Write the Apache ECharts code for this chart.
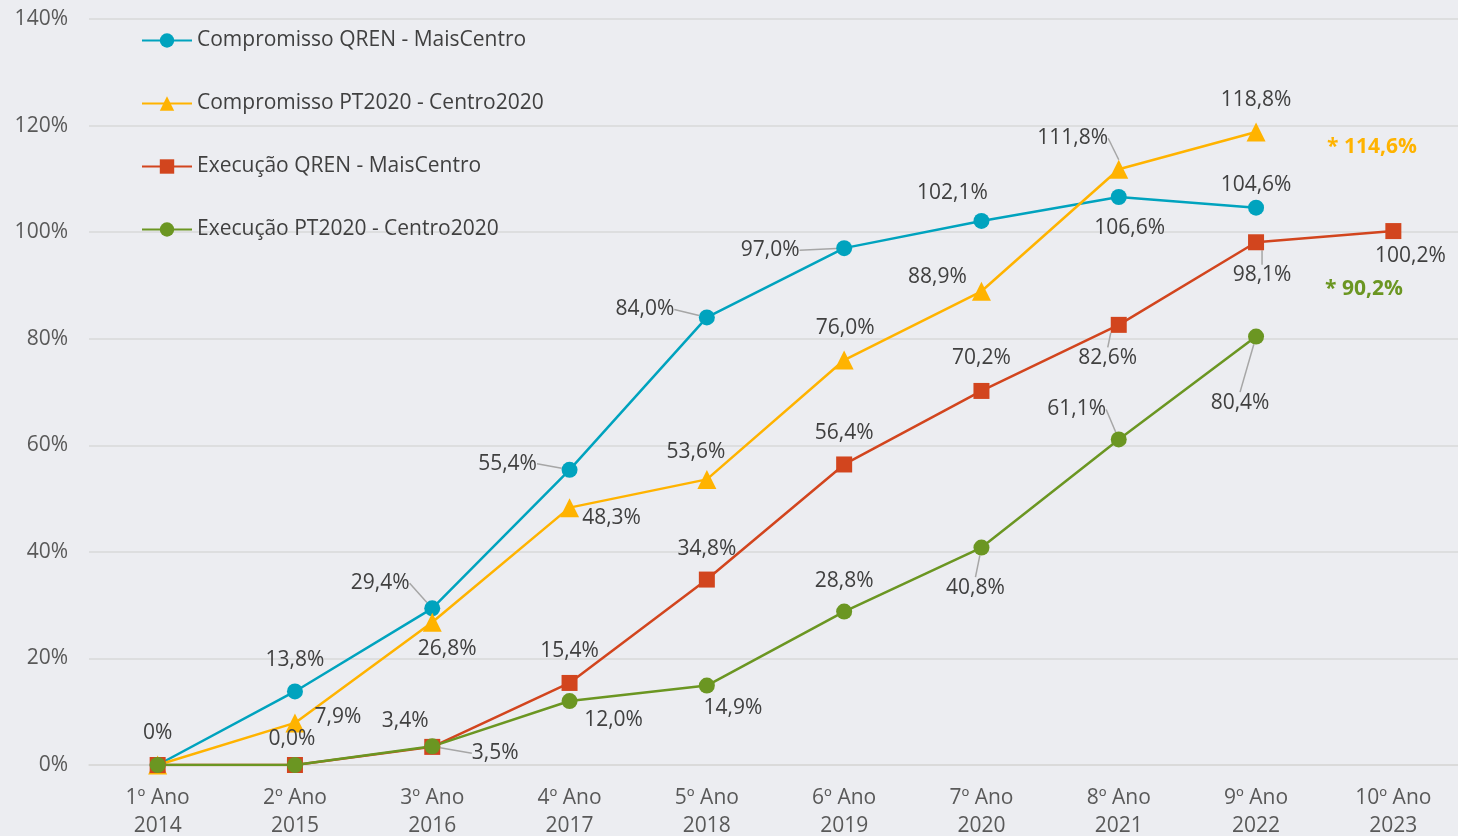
<!DOCTYPE html>
<html>
<head>
<meta charset="utf-8">
<script src="https://cdn.jsdelivr.net/npm/echarts@6/dist/echarts.min.js"></script>
<style>
  html, body { margin: 0; padding: 0; background: #ECEDF1; }
  #main { width: 1458px; height: 836px; }
</style>
</head>
<body>
<div id="main"></div>
<script>
// categorias (ano do programa / ano civil)
const anos = ['1º Ano\n2014', '2º Ano\n2015', '3º Ano\n2016', '4º Ano\n2017', '5º Ano\n2018',
  '6º Ano\n2019', '7º Ano\n2020', '8º Ano\n2021', '9º Ano\n2022', '10º Ano\n2023']

// valores em %
const compromissoQren = [0, 13.8, 29.4, 55.4, 84.0, 97.0, 102.1, 106.6, 104.6, null]
const compromissoPt2020 = [0, 7.9, 26.8, 48.3, 53.6, 76.0, 88.9, 111.8, 118.8, null]
const execucaoQren = [0, 0, 3.4, 15.4, 34.8, 56.4, 70.2, 82.6, 98.1, 100.2]
const execucaoPt2020 = [0, 0, 3.5, 12.0, 14.9, 28.8, 40.8, 61.1, 80.4, null]

const yTicks = [0, 20, 40, 60, 80, 100, 120, 140]

// notas (valores previstos)
const notaPt2020 = '* 114,6%'
const notaExecucao = '* 90,2%'

// deslocamento das etiquetas [dx, dy, guia]; null = sem etiqueta
const labelsTeal = [[0, -32], [0, -31], [-52, -25, 1], [-62, -6, 1], [-62, -8, 1], [-74, 2, 1], [-29, -28], [11, 31], [0, -23], null]
const labelsYellow = [null, [43, -6], [15, 27], [42, 10], [-11, -27], [1, -32], [-44, -14], [-46, -31, 1], [0, -32], null]
const labelsRed = [null, [-3, -26], [-27, -26], [0, -32], [0, -31], [0, -31], [0, -33], [-11, 33, 1], [6, 33, 1], [17, 25]]
const labelsGreen = [null, null, [63, 7, 1], [44, 19], [26, 22], [0, -31], [-6, 40, 1], [-42, -30, 1], [-16, 66, 1], null]

const fmt = (v, i) => (i === 0 ? '0%' : v.toFixed(1).replace('.', ',') + '%')

function buildData (values, offsets) {
    return values.map((v, i) => {
        const o = offsets[i]
        if (v === null) return null
        if (!o) return { value: v, label: { show: false } }
        return {
            value: v,
            label: { show: true },
            labelLine: { show: !!o[2] }
        }
    })
}

function makeSeries (name, values, offsets, color, symbol) {
    return {
        name: name,
        type: 'line',
        symbol: symbol,
        symbolSize: symbol === 'triangle' ? 19 : 16,
        lineStyle: { color: color, width: 2.5 },
        itemStyle: { color: color },
        label: {
            show: true,
            position: 'inside',
            color: '#404040',
            fontSize: 21,
            fontFamily: 'Open Sans',
            formatter: p => fmt(p.value, p.dataIndex)
        },
        labelLine: {
            show: false,
            lineStyle: { color: '#A6A6A6', width: 1.5 }
        },
        labelLayout: p => {
            const o = offsets[p.dataIndex]
            return o ? { dx: o[0], dy: o[1] } : {}
        },
        emphasis: { disabled: true },
        data: buildData(values, offsets)
    }
}

const chart = echarts.init(document.getElementById('main'))
chart.setOption({
    animation: false,
    backgroundColor: '#ECEDF1',
    textStyle: { fontFamily: 'Open Sans' },
    legend: {
        orient: 'vertical',
        left: 136,
        top: 25,
        itemWidth: 50,
        itemHeight: 18,
        itemGap: 42,
        textStyle: { color: '#404040', fontSize: 21, fontFamily: 'Open Sans' },
        data: ['Compromisso QREN - MaisCentro', 'Compromisso PT2020 - Centro2020',
            'Execução QREN - MaisCentro', 'Execução PT2020 - Centro2020']
    },
    grid: { left: 89, top: 19, width: 1373, height: 746, outerBoundsMode: 'none' },
    xAxis: {
        type: 'category',
        data: anos,
        boundaryGap: true,
        axisLine: { lineStyle: { color: '#D9D9D9', width: 1.5 } },
        axisTick: { show: false },
        axisLabel: {
            color: '#595959',
            fontSize: 21,
            lineHeight: 28,
            margin: 19,
            fontFamily: 'Open Sans'
        }
    },
    yAxis: {
        type: 'value',
        min: yTicks[0],
        max: yTicks[yTicks.length - 1],
        interval: 20,
        axisLine: { show: false },
        axisTick: { show: false },
        splitLine: { lineStyle: { color: '#D9D9D9', width: 1.5 } },
        axisLabel: {
            formatter: '{value}%',
            color: '#595959',
            fontSize: 21,
            margin: 21,
            fontFamily: 'Open Sans'
        }
    },
    graphic: [
        {
            type: 'text',
            left: 1327,
            top: 137,
            style: { text: notaPt2020, fill: '#FFB300', font: 'bold 21px "Open Sans"' }
        },
        {
            type: 'text',
            left: 1325,
            top: 279,
            style: { text: notaExecucao, fill: '#6B9622', font: 'bold 21px "Open Sans"' }
        }
    ],
    series: [
        makeSeries('Compromisso QREN - MaisCentro', compromissoQren, labelsTeal, '#00A3BE', 'circle'),
        makeSeries('Compromisso PT2020 - Centro2020', compromissoPt2020, labelsYellow, '#FFB300', 'triangle'),
        makeSeries('Execução QREN - MaisCentro', execucaoQren, labelsRed, '#D2451E', 'rect'),
        makeSeries('Execução PT2020 - Centro2020', execucaoPt2020, labelsGreen, '#6B9622', 'circle')
    ]
})
</script>
</body>
</html>
